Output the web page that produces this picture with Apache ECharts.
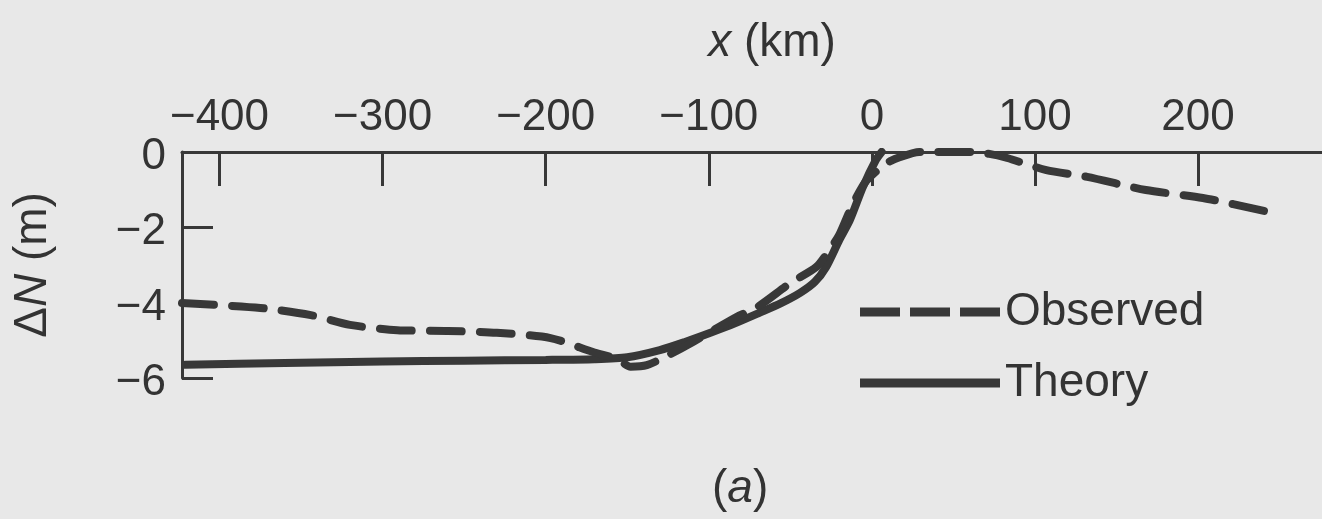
<!DOCTYPE html>
<html>
<head>
<meta charset="utf-8">
<title>Geoid anomaly profile</title>
<script src="https://cdn.jsdelivr.net/npm/echarts@6/dist/echarts.min.js"></script>
<style>
  html, body { margin: 0; padding: 0; background: #e8e8e8; }
  #chart { width: 1322px; height: 519px; }
</style>
</head>
<body>
<div id="chart"></div>
<script>
// Distance from the trench axis (km) and geoid anomaly ΔN (m)
const observedX = [-423, -375, -344, -320, -291, -260, -230, -197, -171, -156, -148, -138, -125, -110, -83, -70, -50, -34, -26, -20, -12, -4, 3, 9, 17, 29, 45, 60, 72, 83, 107, 132, 168, 203, 243];
const observedN = [-4.01, -4.14, -4.33, -4.59, -4.73, -4.75, -4.80, -4.94, -5.31, -5.50, -5.70, -5.66, -5.40, -5.05, -4.38, -4.11, -3.48, -3.05, -2.60, -2.20, -1.41, -0.80, -0.50, -0.29, -0.14, 0.0, 0.0, 0.0, -0.05, -0.16, -0.48, -0.66, -1.01, -1.22, -1.59];

const theoryX = [-421, -360, -300, -250, -200, -170, -150, -130, -115, -99, -84, -69, -56, -44, -35, -28, -20, -13.5, -5.5, 2.5, 6];
const theoryN = [-5.65, -5.60, -5.56, -5.54, -5.52, -5.50, -5.45, -5.26, -5.05, -4.80, -4.55, -4.27, -4.02, -3.74, -3.45, -3.05, -2.34, -1.81, -0.93, -0.21, 0.0];

const xTicks = [-400, -300, -200, -100, 0, 100, 200];

const ink = '#383838';
const textColor = '#333333';
const font = 'Liberation Sans, Arial, Helvetica, sans-serif';

const zip = (xs, ys) => xs.map((x, i) => [x, ys[i]]);
const minus = v => (v < 0 ? '\u2212' + Math.abs(v) : String(v));

// Legend keys: three dashes for the observed profile, a solid bar for theory
const dashedKey = 'path://M0 0H40V9H0Z M50 0H90V9H50Z M100 0H140V9H100Z';
const solidKey = 'path://M0 0H140V9H0Z';

const chart = echarts.init(document.getElementById('chart'), null, { renderer: 'canvas' });

chart.setOption({
  backgroundColor: '#e8e8e8',
  animation: false,
  textStyle: { fontFamily: font, color: textColor },
  grid: {
    left: 182, right: 0, top: 152, bottom: 141,
    outerBoundsMode: 'none'
  },
  xAxis: {
    type: 'value',
    position: 'top',
    min: -423,
    max: 276,
    name: '{i|x} (km)',
    nameLocation: 'middle',
    nameGap: 86,
    nameTextStyle: {
      fontSize: 46, color: textColor, fontFamily: font,
      padding: [0, 0, 0, 40],
      rich: { i: { fontSize: 46, fontStyle: 'italic', color: textColor, fontFamily: font } }
    },
    axisLine: { show: true, onZero: false, lineStyle: { color: ink, width: 3 } },
    axisTick: { show: true, inside: true, length: 34, customValues: xTicks, lineStyle: { color: ink, width: 3 } },
    axisLabel: {
      customValues: xTicks,
      formatter: minus,
      fontSize: 44, color: textColor, fontFamily: font, margin: 12
    },
    splitLine: { show: false }
  },
  yAxis: {
    type: 'value',
    min: -6,
    max: 0,
    interval: 2,
    name: '\u0394{i|N} (m)',
    nameLocation: 'middle',
    nameRotate: 90,
    nameGap: 126,
    nameTextStyle: {
      fontSize: 46, color: textColor, fontFamily: font,
      rich: { i: { fontSize: 46, fontStyle: 'italic', color: textColor, fontFamily: font } }
    },
    axisLine: { show: true, onZero: false, lineStyle: { color: ink, width: 3 } },
    axisTick: { show: true, inside: true, length: 31, lineStyle: { color: ink, width: 3 } },
    axisLabel: {
      formatter: minus,
      fontSize: 44, color: textColor, fontFamily: font, margin: 16,
      verticalAlign: 'top',
      lineHeight: 10
    },
    splitLine: { show: false }
  },
  legend: {
    orient: 'vertical',
    left: 855,
    top: 284,
    itemWidth: 140,
    itemHeight: 9,
    itemGap: 25,
    textStyle: { fontSize: 46, color: textColor, fontFamily: font },
    data: [
      { name: 'Observed', icon: dashedKey },
      { name: 'Theory', icon: solidKey }
    ]
  },
  series: [
    {
      name: 'Observed',
      type: 'line',
      data: zip(observedX, observedN),
      showSymbol: false,
      symbol: 'none',
      smooth: 0.25,
      lineStyle: { color: ink, width: 8, type: [32, 18], cap: 'round' },
      itemStyle: { color: ink },
      z: 3
    },
    {
      name: 'Theory',
      type: 'line',
      data: zip(theoryX, theoryN),
      showSymbol: false,
      symbol: 'none',
      smooth: 0.25,
      lineStyle: { color: ink, width: 8, cap: 'round' },
      itemStyle: { color: ink },
      z: 2
    }
  ],
  graphic: [
    {
      type: 'text',
      left: 712,
      top: 466,
      style: {
        text: '({i|a})',
        fontSize: 46,
        fontFamily: font,
        fill: textColor,
        rich: { i: { fontSize: 46, fontStyle: 'italic', fill: textColor, fontFamily: font } }
      }
    }
  ]
});
</script>
</body>
</html>
